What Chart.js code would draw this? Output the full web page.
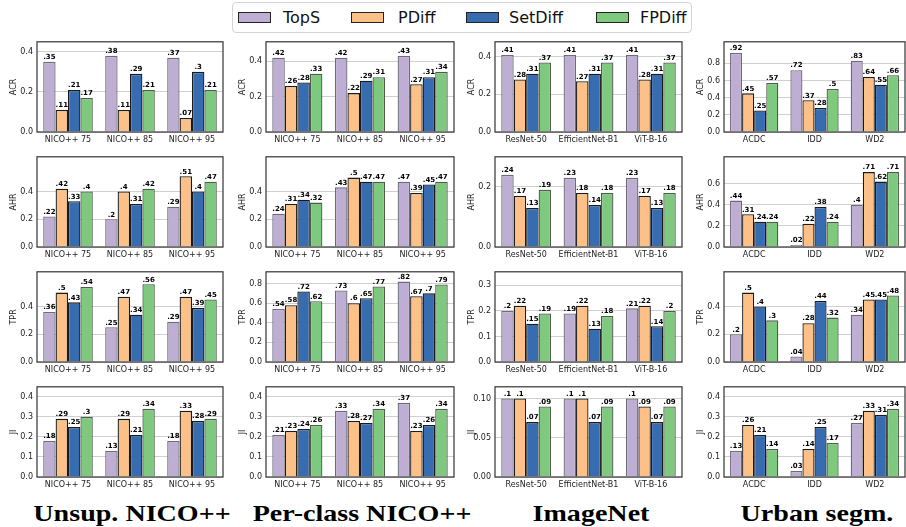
<!DOCTYPE html>
<html>
<head>
<meta charset="utf-8">
<script src="https://cdn.jsdelivr.net/npm/chart.js@4.4.1/dist/chart.umd.min.js"></script>
<style>
  body { margin: 0; background: #fff; width: 906px; height: 527px; position: relative; overflow: hidden; font-family: "DejaVu Sans", sans-serif; }
  canvas { position: absolute; }
  #legend { position: absolute; left: 232px; top: 2px; width: 460px; height: 31px; border: 1px solid #d4d4d4; border-radius: 4px; box-sizing: border-box; }
  .sw { position: absolute; top: 9px; width: 33px; height: 11px; border: 1px solid #222; box-sizing: border-box; }
  .lt { position: absolute; top: 5px; font-size: 16px; color: #111; white-space: nowrap; }
  .ct { position: absolute; top: 502px; font-family: "Liberation Serif", serif; font-weight: bold; font-size: 23px; line-height: 23px; color: #000; white-space: nowrap; transform: translateX(-50%) scaleX(1.22); }
</style>
</head>
<body>
<div id="legend"></div>

<script>
// series and categories
const seriesNames = ['TopS', 'PDiff', 'SetDiff', 'FPDiff'];
const seriesColors = ['#beaed4', '#fdc086', '#386cb0', '#7fc97f'];
const seriesEdges = ['#6f6a78', '#1a1a1a', '#1a1a1a', '#4d5c4d'];
const metrics = ['ACR', 'AHR', 'TPR', 'JI'];
const nicoCats = ['NICO++ 75', 'NICO++ 85', 'NICO++ 95'];
const imagenetCats = ['ResNet-50', 'EfficientNet-B1', 'ViT-B-16'];
const urbanCats = ['ACDC', 'IDD', 'WD2'];
const columnTitles = ['Unsup. NICO++', 'Per-class NICO++', 'ImageNet', 'Urban segm.'];

// values: one array per series (TopS, PDiff, SetDiff, FPDiff)
const unsupACR = [[.35, .38, .37], [.11, .11, .07], [.21, .29, .3], [.17, .21, .21]];
const unsupAHR = [[.22, .2, .29], [.42, .4, .51], [.33, .31, .4], [.4, .42, .47]];
const unsupTPR = [[.36, .25, .29], [.5, .47, .47], [.43, .34, .39], [.54, .56, .45]];
const unsupJI = [[.18, .13, .18], [.29, .29, .33], [.25, .21, .28], [.3, .34, .29]];

const classACR = [[.42, .42, .43], [.26, .22, .27], [.28, .29, .31], [.33, .31, .34]];
const classAHR = [[.24, .43, .47], [.31, .5, .39], [.34, .47, .45], [.32, .47, .47]];
const classTPR = [[.54, .73, .82], [.58, .6, .67], [.72, .65, .7], [.62, .77, .79]];
const classJI = [[.21, .33, .37], [.23, .28, .23], [.24, .27, .26], [.26, .34, .34]];

const imagenetACR = [[.41, .41, .41], [.28, .27, .28], [.31, .31, .31], [.37, .37, .37]];
const imagenetAHR = [[.24, .23, .23], [.17, .18, .17], [.13, .14, .13], [.19, .18, .18]];
const imagenetTPR = [[.2, .19, .21], [.22, .22, .22], [.15, .13, .14], [.19, .18, .2]];
const imagenetJI = [[.1, .1, .1], [.1, .1, .09], [.07, .07, .07], [.09, .09, .09]];

const urbanACR = [[.92, .72, .83], [.45, .37, .64], [.25, .28, .55], [.57, .5, .66]];
const urbanAHR = [[.44, .02, .4], [.31, .22, .71], [.24, .38, .62], [.24, .24, .71]];
const urbanTPR = [[.2, .04, .34], [.5, .28, .45], [.4, .44, .45], [.3, .32, .48]];
const urbanJI = [[.13, .03, .27], [.26, .14, .33], [.21, .25, .31], [.14, .17, .34]];

// y axis ranges per row (metric) and column
const yMax = [[0.45, 0.51, 0.48, 1.05], [0.65, 0.65, 0.3, 0.855], [0.65, 0.92, 0.353, 0.65], [0.45, 0.45, 0.115, 0.45]];
const yStep = [[0.2, 0.2, 0.2, 0.2], [0.2, 0.2, 0.2, 0.2], [0.2, 0.2, 0.1, 0.2], [0.1, 0.1, 0.05, 0.1]];

const panels = [
  [unsupACR, classACR, imagenetACR, urbanACR],
  [unsupAHR, classAHR, imagenetAHR, urbanAHR],
  [unsupTPR, classTPR, imagenetTPR, urbanTPR],
  [unsupJI, classJI, imagenetJI, urbanJI]
];
const columnCats = [nicoCats, nicoCats, imagenetCats, urbanCats];

// layout of the plot areas
const colLeft = [37, 266, 495, 724];
const colWidth = [186, 188, 187, 181];
const rowTop = [39, 154, 269, 384];
const plotH = 93;
const yAxisW = 32, padTop = 6, padRight = 4, xAxisH = 16;

// legend
const legend = document.getElementById('legend');
const swX = [5, 118, 233, 363];
const txtX = [50, 165, 276, 407];
seriesNames.forEach((n, i) => {
  let sw = document.createElement('div');
  sw.className = 'sw';
  sw.style.left = swX[i] + 'px';
  sw.style.background = seriesColors[i];
  legend.appendChild(sw);
  let t = document.createElement('div');
  t.className = 'lt';
  t.style.left = txtX[i] + 'px';
  t.textContent = n;
  legend.appendChild(t);
});

// column titles
columnTitles.forEach((t, c) => {
  let d = document.createElement('div');
  d.className = 'ct';
  d.style.left = (colLeft[c] + colWidth[c] / 2 + 2) + 'px';
  d.textContent = t;
  document.body.appendChild(d);
});

const valueLabels = {
  id: 'valueLabels',
  afterDatasetsDraw(chart) {
    const ctx = chart.ctx;
    ctx.save();
    ctx.font = 'bold 7px "DejaVu Sans"';
    ctx.fillStyle = '#000';
    ctx.textAlign = 'center';
    ctx.textBaseline = 'bottom';
    chart.data.datasets.forEach((ds, di) => {
      chart.getDatasetMeta(di).data.forEach((bar, i) => {
        let txt = String(ds.data[i]).replace(/^0/, '');
        ctx.fillText(txt, bar.x, bar.y - 1);
      });
    });
    ctx.restore();
  }
};

const frame = {
  id: 'frame',
  afterDatasetsDraw(chart) {
    const a = chart.chartArea;
    const ctx = chart.ctx;
    ctx.save();
    ctx.strokeStyle = '#333';
    ctx.lineWidth = 1.2;
    ctx.strokeRect(a.left, a.top, a.right - a.left, a.bottom - a.top);
    ctx.restore();
  }
};

for (let r = 0; r < 4; r++) {
  for (let c = 0; c < 4; c++) {
    let cv = document.createElement('canvas');
    let w = colWidth[c] + yAxisW + padRight;
    let h = plotH + padTop + xAxisH;
    cv.width = w;
    cv.height = h;
    cv.style.left = (colLeft[c] - yAxisW) + 'px';
    cv.style.top = (rowTop[r] - padTop) + 'px';
    document.body.appendChild(cv);

    let step = yStep[r][c];
    let decimals = step < 0.1 ? 2 : 1;

    new Chart(cv.getContext('2d'), {
      type: 'bar',
      data: {
        labels: columnCats[c],
        datasets: seriesNames.map((n, i) => ({
          label: n,
          data: panels[r][c][i],
          backgroundColor: seriesColors[i],
          borderColor: seriesEdges[i],
          borderWidth: 1.3,
          borderSkipped: 'bottom',
          categoryPercentage: 0.8,
          barPercentage: 1.0
        }))
      },
      options: {
        responsive: false,
        animation: false,
        layout: { padding: { left: 0, top: padTop, right: padRight, bottom: 0 } },
        plugins: { legend: { display: false }, tooltip: { enabled: false } },
        scales: {
          x: {
            grid: { display: false, drawTicks: false },
            border: { display: false },
            ticks: { color: '#222', font: { family: 'DejaVu Sans', size: 8 }, padding: 3, maxRotation: 0, autoSkip: false },
            afterFit: s => { s.height = xAxisH; }
          },
          y: {
            min: 0,
            max: yMax[r][c],
            grid: { color: '#c4c4c4', lineWidth: 0.8, borderDash: [2, 2], drawTicks: false },
            border: { display: false },
            ticks: {
              stepSize: step,
              color: '#222',
              font: { family: 'DejaVu Sans', size: 8 },
              padding: 4,
              callback: v => v.toFixed(decimals)
            },
            title: { display: true, text: metrics[r], color: '#222', font: { family: 'DejaVu Sans', size: 8 }, padding: { top: 4, bottom: 0 } },
            afterBuildTicks: s => {
              s.ticks = s.ticks.filter(t => Math.abs(t.value / step - Math.round(t.value / step)) < 1e-6);
            },
            afterFit: s => { s.width = yAxisW; }
          }
        }
      },
      plugins: [valueLabels, frame]
    });
  }
}
</script>
</body>
</html>
